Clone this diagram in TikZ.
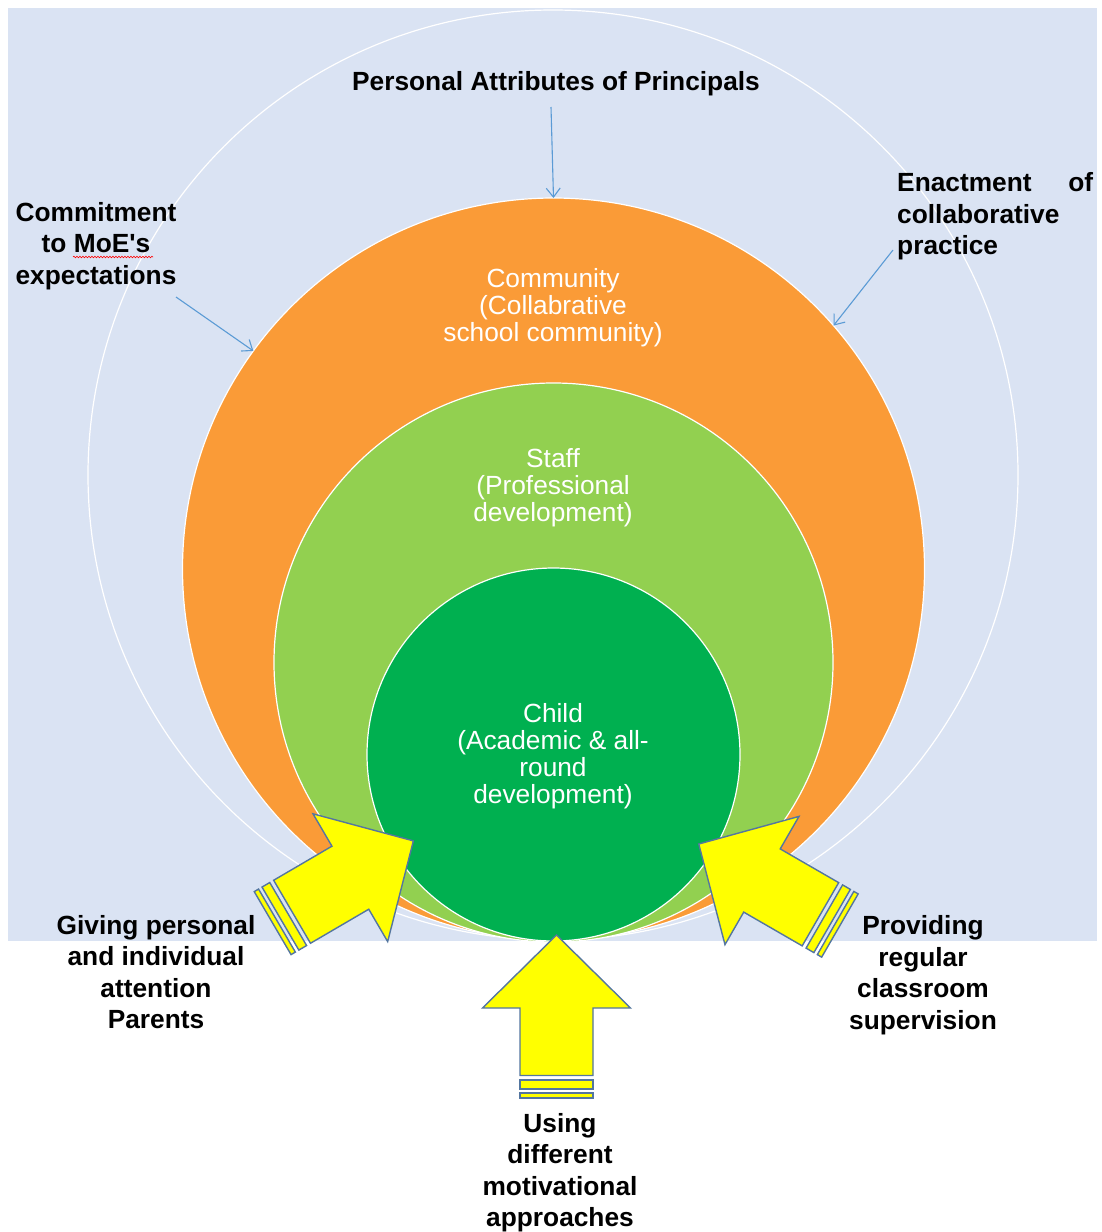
\documentclass[tikz,border=0pt]{standalone}
\usepackage{fontspec}
\setmainfont{Liberation Sans}[Ligatures=TeXOff]
\usetikzlibrary{arrows.meta,decorations.pathmorphing}
\definecolor{bgblue}{HTML}{DAE3F3}
\definecolor{orangefill}{RGB}{250,155,55}
\definecolor{lightgreen}{HTML}{92D050}
\definecolor{darkgreen}{HTML}{00B050}
\definecolor{arrowline}{RGB}{84,118,160}
\definecolor{thinblue}{HTML}{5B9BD5}
\definecolor{arrowyellow}{RGB}{255,255,0}
\tikzset{
  ring/.style={circle, inner sep=0pt, outer sep=0pt, draw=white, line width=1.2pt},
  whitetext/.style={text=white, align=center, inner sep=0pt, font=\fontsize{26.3}{27}\selectfont},
  label/.style={text=black, inner sep=0pt, font=\fontsize{26.3}{31.5}\selectfont\bfseries},
  thinarrow/.style={draw=thinblue, line width=1.1pt, -{Straight Barb[length=9pt,width=14pt]}},
  arrowfill/.style={fill=arrowyellow, draw=arrowline, line width=1.4pt, line join=miter},
  blockarrow/.pic={
    \draw[arrowfill] (-0.5,-36.5) -- (67,-36.5) -- (67,-74) -- (140,0) -- (67,74) -- (67,36.5) -- (-0.5,36.5) -- cycle;
    \draw[arrowfill] (-14,-36.5) rectangle (-5,36.5);
    \draw[arrowfill] (-23,-36.5) rectangle (-18,36.5);
  }
}
\begin{document}
\begin{tikzpicture}[x=1pt,y=-1pt]
\useasboundingbox (0,0) rectangle (1102,1232);
\fill[bgblue] (8,8) rectangle (1097,941);
% circles
\node[ring, minimum size=930pt] (outer) at (553,475) {};
\node[ring, fill=orangefill, minimum size=742pt] (community) at (553.5,569) {};
\node[ring, fill=lightgreen, minimum size=559pt] (staff) at (553.5,662.5) {};
\node[ring, fill=darkgreen, minimum size=373pt] (child) at (553.5,754.5) {};
% texts in circles
\node[whitetext] (ctext) at (553,308) {Community\\(Collabrative\\school community)};
\node[whitetext] (stext) at (553,487.5) {Staff\\(Professional\\development)};
\node[whitetext] (chtext) at (553,756.5) {Child\\(Academic \& all-\\round\\development)};
% labels
\node[label] (personal) at (556,83.5) {Personal Attributes of Principals};
\node[label, align=center] (commit) at (96,246) {Commitment\\to MoE's\\expectations};
\node[label, align=left, anchor=west] (enact) at (897,216.5) {\makebox[196pt][s]{Enactment\hfill of}\\collaborative\\practice};
\node[label, align=center] (giving) at (156,972) {Giving personal\\and individual\\attention\\Parents};
\node[label, align=center] (providing) at (923,975) {Providing\\regular\\classroom\\supervision};
\node[label, align=center] (using) at (560,1172.5) {Using\\different\\motivational\\approaches};
% spell-check squiggle
\draw[red, line width=0.6pt, decorate, decoration={snake, amplitude=0.8pt, segment length=3pt}] (73,257) -- (153,257);
% thin arrows
\coordinate (pstart) at (551,107);
\coordinate (cstart) at (176,297);
\coordinate (estart) at (893,250);
\draw[thinarrow] (pstart) -- (community.north);
\draw[thinarrow] (cstart) -- (community.144);
\draw[thinarrow] (estart) -- (community.41);
% block arrows
\pic[rotate=30.3] (leftarrow) at (292.5,911.5) {blockarrow};
\pic[rotate=90] (bottomarrow) at (556.5,1075) {blockarrow};
\pic[rotate=150] (rightarrow) at (820,914) {blockarrow};
\end{tikzpicture}
\end{document}
